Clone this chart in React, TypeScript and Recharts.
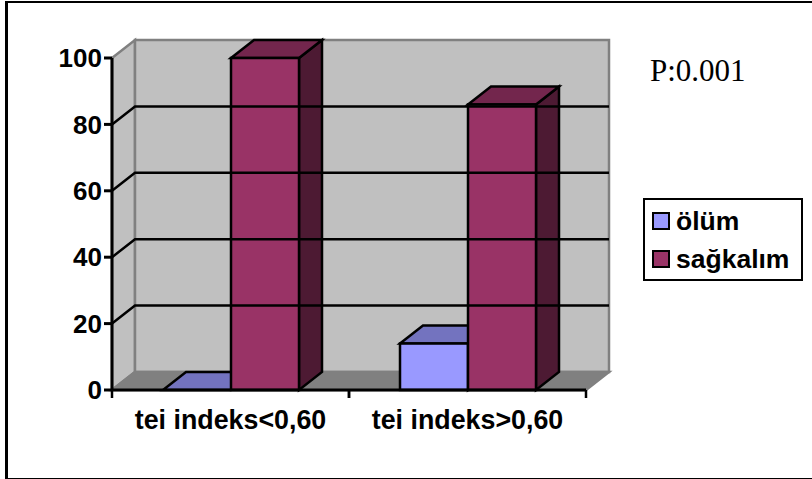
import React from 'react';
import { BarChart, Bar, XAxis, YAxis, Legend, ReferenceArea, ReferenceLine } from 'recharts';

const groups = ['tei indeks<0,60', 'tei indeks>0,60'];
const deathValues = [0, 14];
const survivalValues = [100, 86];
const yTicks = [0, 20, 40, 60, 80, 100];
const gridValues = [20, 40, 60, 80];

const rows = groups.map((name, i) => ({ name, death: deathValues[i], survival: survivalValues[i] }));

// oblique offset of the back wall relative to the front plane
const DX = 23;
const DY = 18;

const AXIS_FONT = '"Liberation Sans", Arial, sans-serif';
const WALL = '#c0c0c0';
const FLOOR = '#808080';

const poly = (pts: number[][]) => pts.map((p) => p.join(',')).join(' ');

const Bar3D = (colors: { front: string; top: string; side: string }) => (props: any) => {
  const { x, y, width, height } = props;
  const bottom = y + height;
  const right = x + width;
  const line = { stroke: '#000', strokeWidth: 2.5, strokeLinejoin: 'miter' as const };
  return (
    <g>
      <polygon points={poly([[right, y], [right + DX, y - DY], [right + DX, bottom - DY], [right, bottom]])} fill={colors.side} {...line} />
      <polygon points={poly([[x, y], [x + DX, y - DY], [right + DX, y - DY], [right, y]])} fill={colors.top} {...line} />
      <rect x={x} y={y} width={width} height={height} fill={colors.front} {...line} />
    </g>
  );
};

const Walls = (props: any) => {
  const { x, y, width, height } = props;
  const bottom = y + height;
  const right = x + width;
  const edge = { stroke: FLOOR, strokeWidth: 2.5 };
  return (
    <g>
      <polygon points={poly([[x, y], [x + DX, y - DY], [x + DX, bottom - DY], [x, bottom]])} fill={WALL} {...edge} />
      <rect x={x + DX} y={y - DY} width={width} height={height} fill={WALL} {...edge} />
      <polygon points={poly([[x, bottom], [x + DX, bottom - DY], [right + DX, bottom - DY], [right, bottom]])} fill={FLOOR} {...edge} />
    </g>
  );
};

const WallGridLine = (props: any) => {
  const { x1, x2, y1 } = props;
  return (
    <polyline
      points={poly([[x1, y1], [x1 + DX, y1 - DY], [x2 + DX, y1 - DY]])}
      fill="none"
      stroke="#000"
      strokeWidth={2.5}
    />
  );
};

// category ticks sit on the band edges, not the centres
const CategoryTick = (props: any) => {
  const { x, payload } = props;
  const half = 118.5;
  const top = 390;
  return (
    <g>
      <line x1={x - half} x2={x - half} y1={top} y2={top + 8} stroke="#000" strokeWidth={2.5} />
      <line x1={x + half} x2={x + half} y1={top} y2={top + 8} stroke="#000" strokeWidth={2.5} />
      <text x={x} y={429} textAnchor="middle" fontFamily={AXIS_FONT} fontWeight="bold" fontSize={26.8} fill="#000">
        {payload.value}
      </text>
    </g>
  );
};

const legendItems = [
  { label: 'ölüm', color: '#9999ff' },
  { label: 'sağkalım', color: '#993366' },
];

const LegendBox = () => (
  <div
    style={{
      width: 156,
      height: 79,
      border: '2.5px solid #000',
      background: '#fff',
      fontFamily: AXIS_FONT,
      fontWeight: 'bold',
      fontSize: 26.5,
      color: '#000',
    }}
  >
    {legendItems.map((item, i) => (
      <div key={item.label} style={{ position: 'absolute', left: 9, top: 10 + i * 38, display: 'flex', alignItems: 'center', height: 26 }}>
        <span style={{ width: 14, height: 14, border: '2.5px solid #000', background: item.color, marginRight: 6 }} />
        <span>{item.label}</span>
      </div>
    ))}
  </div>
);

export default function App() {
  return (
    <div style={{ position: 'absolute', left: 0, top: 0, width: 812, height: 479, background: '#fff', overflow: 'hidden' }}>
      <div style={{ position: 'absolute', left: 5, top: 1, width: 812, height: 475, borderLeft: '3px solid #000', borderTop: '2px solid #000', borderBottom: '2px solid #000' }} />
      <div style={{ position: 'absolute', left: 650, top: 53, fontFamily: '"Liberation Serif", "Times New Roman", serif', fontSize: 31, color: '#000' }}>
        P:0.001
      </div>
      <BarChart
        width={812}
        height={479}
        data={rows}
        margin={{ top: 58, right: 65, bottom: 0, left: 0 }}
        barGap={0}
        barSize={68}
        style={{ position: 'absolute', left: 0, top: 0 }}
      >
        <XAxis dataKey="name" axisLine={{ stroke: '#000', strokeWidth: 3 }} tickLine={false} tick={<CategoryTick />} interval={0} height={89} />
        <YAxis
          domain={[0, 100]}
          ticks={yTicks}
          width={112}
          axisLine={{ stroke: '#000', strokeWidth: 3 }}
          tickLine={{ stroke: '#000', strokeWidth: 3 }}
          tickSize={8}
          tick={{ fontFamily: AXIS_FONT, fontWeight: 'bold', fontSize: 26, fill: '#000' }}
        />
        <ReferenceArea x1={groups[0]} x2={groups[1]} y1={0} y2={100} shape={<Walls />} ifOverflow="visible" />
        {gridValues.map((v) => (
          <ReferenceLine key={v} y={v} shape={<WallGridLine />} ifOverflow="visible" />
        ))}
        <Bar dataKey="death" name="ölüm" isAnimationActive={false} shape={Bar3D({ front: '#9999ff', top: '#7373bf', side: '#4d4d80' })} />
        <Bar dataKey="survival" name="sağkalım" isAnimationActive={false} shape={Bar3D({ front: '#993366', top: '#73264d', side: '#4d1a33' })} />
        <Legend
          layout="vertical"
          align="right"
          verticalAlign="top"
          content={<LegendBox />}
          wrapperStyle={{ position: 'absolute', left: 643, top: 198, width: 161, height: 83 }}
        />
      </BarChart>
    </div>
  );
}
